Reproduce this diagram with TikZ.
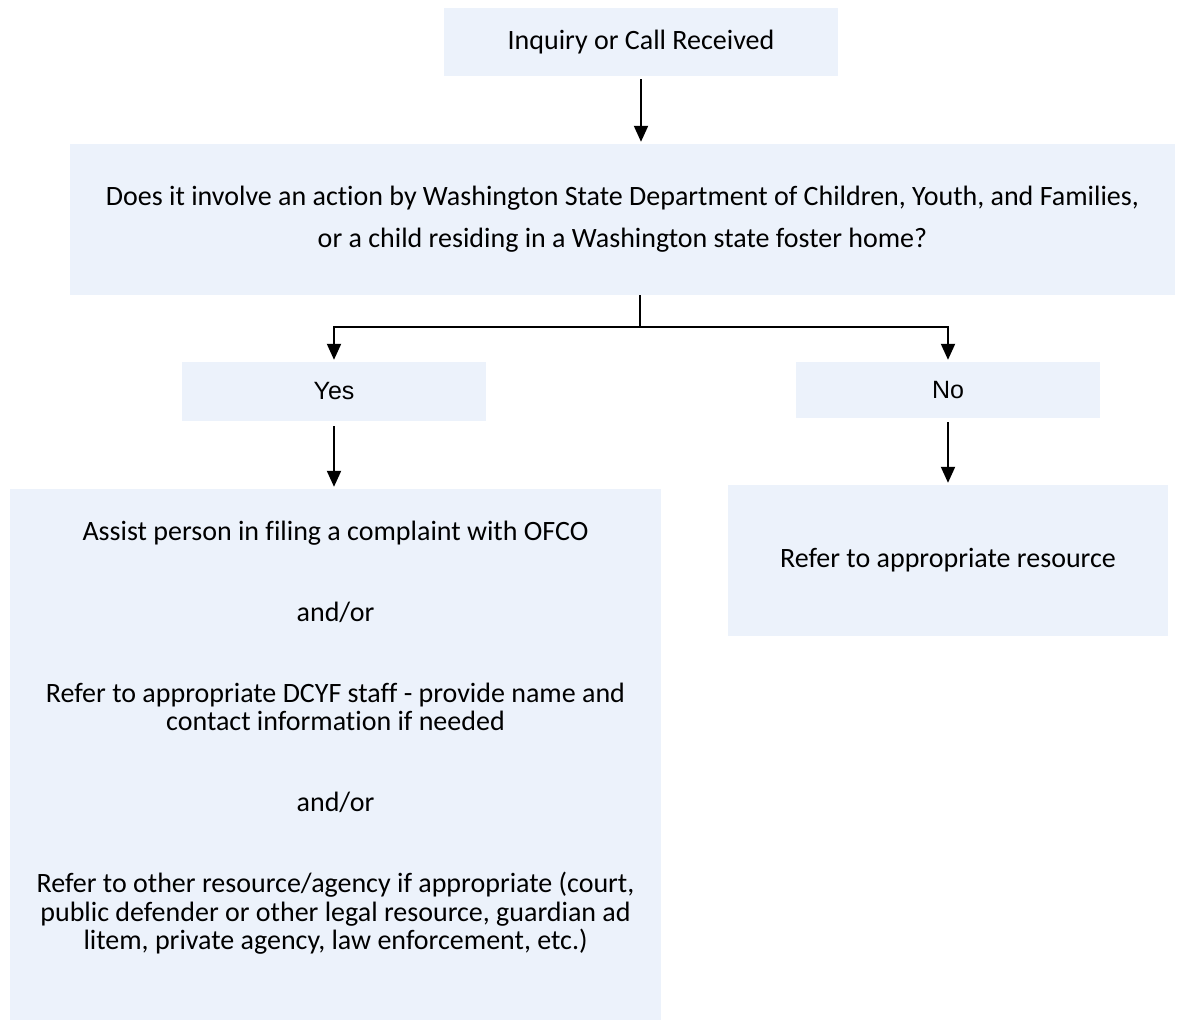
\documentclass[tikz,border=0pt]{standalone}
\usepackage{fontspec}
\setmainfont{Carlito}[Ligatures=NoCommon]
\newfontfamily\yesnofont{Liberation Sans}
\usetikzlibrary{arrows.meta,positioning}
\definecolor{boxfill}{HTML}{ECF2FB}

\begin{document}
\begin{tikzpicture}[
x=1pt,y=-1pt,
FlowBox/.style={fill=boxfill,inner sep=0pt,align=center,font=\fontsize{28}{28.5}\selectfont},
FlowText/.style={inner sep=0pt,align=center,font=\fontsize{28}{28.5}\selectfont},
FlowLine/.style={line width=2pt},
FlowArrow/.style={line width=2pt,-{Triangle[length=16pt,width=14pt]},shorten <=3pt,shorten >=2pt}
]
\useasboundingbox (0,0) rectangle (1202,1021);

% boxes of the flow chart
\node[FlowBox,minimum width=394pt,minimum height=68pt] (call) at (641,42) {Inquiry or Call Received};

\node[FlowBox,minimum width=1105pt,minimum height=151pt,font=\fontsize{28}{42}\selectfont] (involve) at (622.5,219.5)
{Does it involve an action by Washington State Department of Children, Youth, and Families,\\
or a child residing in a Washington state foster home?};

\node[FlowBox,minimum width=304pt,minimum height=59pt,font=\yesnofont\fontsize{25}{28}\selectfont] (yes) at (334,391.5) {Yes};
\node[FlowBox,minimum width=304pt,minimum height=56pt,font=\yesnofont\fontsize{25}{28}\selectfont] (no) at (948,390) {No};

\node[FlowBox,minimum width=651pt,minimum height=531pt] (assist) at (335.5,754.5) {};
\node[FlowText] (assisttxt) at (335.5,737.5)
{Assist person in filing a complaint with OFCO\\[52.5pt]
and/or\\[52.5pt]
Refer to appropriate DCYF staff - provide name and\\
contact information if needed\\[52.5pt]
and/or\\[52.5pt]
Refer to other resource/agency if appropriate (court,\\
public defender or other legal resource, guardian ad\\
litem, private agency, law enforcement, etc.)};

\node[FlowBox,minimum width=440pt,minimum height=151pt] (refer) at (948,560.5) {Refer to appropriate resource};

% connectors
\coordinate (split) at (640,327);

\draw[FlowArrow] (call.south) -- (call.south |- involve.north);
\draw[FlowLine] (involve.south -| split) -- (split);
\draw[FlowArrow,shorten <=0pt] (split) -| (yes.north);
\draw[FlowArrow,shorten <=0pt] (split) -| (no.north);
\draw[FlowArrow,shorten <=5pt] (yes.south) -- (yes.south |- assist.north);
\draw[FlowArrow,shorten <=4pt] (no.south) -- (no.south |- refer.north);

\end{tikzpicture}
\end{document}
